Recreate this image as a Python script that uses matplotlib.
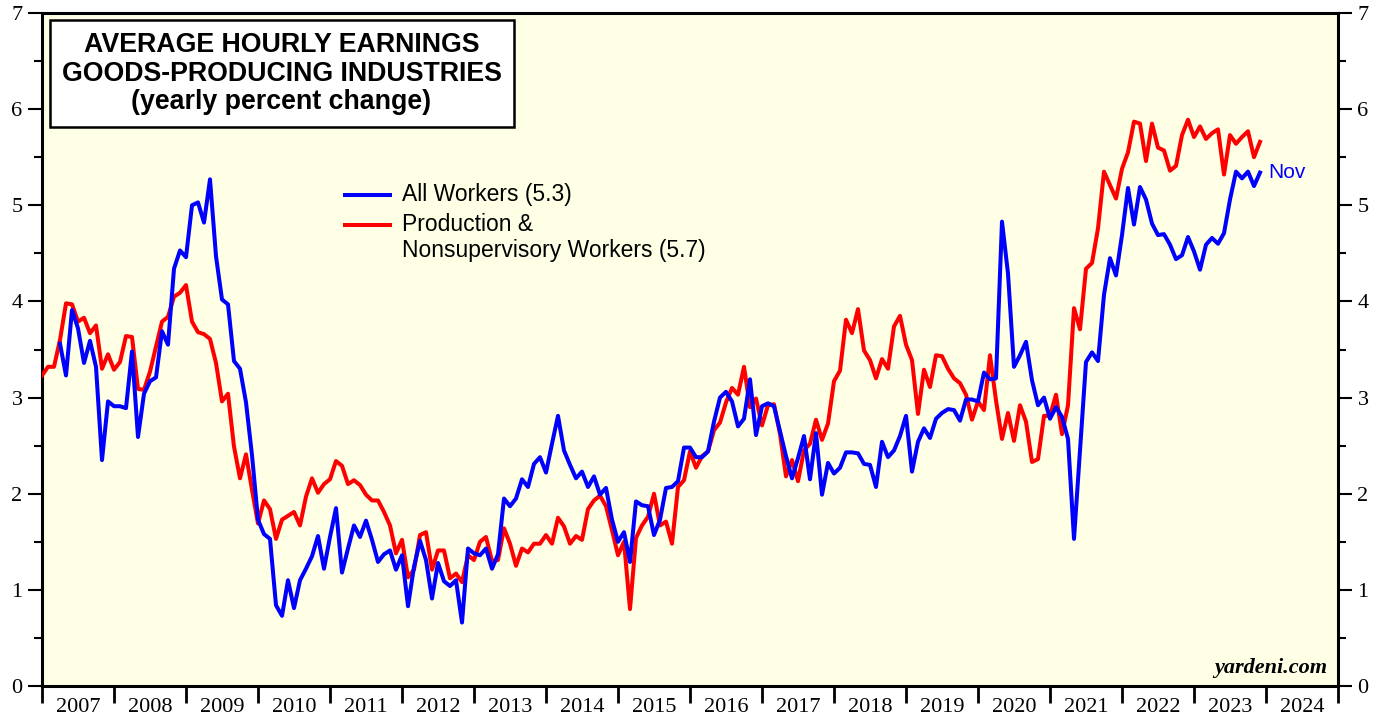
import numpy as np
import matplotlib.pyplot as plt
from matplotlib.ticker import FixedLocator, NullFormatter

# monthly values, first point = Dec 2006 (plotted at start of 2007), last = Nov 2023
production = [
    3.23, 3.32, 3.32, 3.60, 3.98, 3.97, 3.79, 3.83, 3.67, 3.75, 3.30, 3.45,
    3.29, 3.37, 3.64, 3.63, 3.09, 3.08, 3.27, 3.53, 3.79, 3.84, 4.05, 4.09,
    4.17, 3.79, 3.68, 3.66, 3.61, 3.36, 2.96, 3.04, 2.49, 2.16, 2.41, 2.04,
    1.69, 1.93, 1.84, 1.53, 1.73, 1.77, 1.81, 1.67, 1.97, 2.16, 2.01, 2.10,
    2.15, 2.34, 2.29, 2.10, 2.14, 2.09, 1.99, 1.93, 1.93, 1.81, 1.67, 1.38,
    1.52, 1.13, 1.21, 1.57, 1.60, 1.21, 1.41, 1.41, 1.12, 1.17, 1.08, 1.36,
    1.31, 1.50, 1.55, 1.30, 1.31, 1.64, 1.48, 1.25, 1.43, 1.39, 1.48, 1.48,
    1.57, 1.48, 1.75, 1.66, 1.48, 1.56, 1.52, 1.84, 1.93, 1.98, 1.87, 1.62,
    1.36, 1.50, 0.80, 1.54, 1.67, 1.76, 2.00, 1.67, 1.71, 1.48, 2.07, 2.14,
    2.44, 2.27, 2.39, 2.44, 2.66, 2.74, 2.95, 3.10, 3.03, 3.32, 2.90, 2.99,
    2.71, 2.92, 2.93, 2.62, 2.18, 2.35, 2.13, 2.45, 2.52, 2.77, 2.56, 2.73,
    3.17, 3.28, 3.81, 3.67, 3.92, 3.49, 3.39, 3.20, 3.40, 3.30, 3.74, 3.85,
    3.55, 3.39, 2.83, 3.29, 3.11, 3.44, 3.43, 3.30, 3.20, 3.15, 3.03, 2.77,
    2.96, 2.87, 3.44, 2.97, 2.57, 2.84, 2.55, 2.92, 2.75, 2.33, 2.36, 2.81,
    2.81, 3.03, 2.62, 2.92, 3.93, 3.71, 4.34, 4.40, 4.76, 5.35, 5.21, 5.07,
    5.38, 5.55, 5.87, 5.85, 5.46, 5.85, 5.60, 5.57, 5.36, 5.41, 5.73, 5.89,
    5.71, 5.82, 5.69, 5.75, 5.79, 5.32, 5.73, 5.64, 5.71, 5.77, 5.50, 5.66,
]

# all workers starts three months later (Mar 2007)
all_workers = [
    3.56, 3.23, 3.91, 3.72, 3.36, 3.59, 3.32, 2.35, 2.96,
    2.91, 2.91, 2.89, 3.48, 2.59, 3.04, 3.17, 3.21, 3.69, 3.55, 4.34, 4.53,
    4.46, 5.00, 5.03, 4.82, 5.27, 4.47, 4.02, 3.97, 3.38, 3.30, 2.95, 2.40,
    1.73, 1.58, 1.53, 0.84, 0.73, 1.10, 0.81, 1.10, 1.22, 1.35, 1.56, 1.22,
    1.55, 1.85, 1.18, 1.43, 1.67, 1.55, 1.72, 1.52, 1.29, 1.37, 1.41, 1.21,
    1.36, 0.83, 1.24, 1.51, 1.31, 0.91, 1.28, 1.09, 1.04, 1.10, 0.66, 1.43,
    1.38, 1.36, 1.43, 1.22, 1.37, 1.95, 1.87, 1.95, 2.15, 2.07, 2.31, 2.38,
    2.22, 2.52, 2.81, 2.45, 2.30, 2.16, 2.23, 2.07, 2.18, 1.99, 2.06, 1.73,
    1.50, 1.60, 1.29, 1.92, 1.88, 1.87, 1.57, 1.73, 2.06, 2.07, 2.13, 2.48,
    2.48, 2.38, 2.38, 2.44, 2.75, 3.00, 3.06, 2.96, 2.70, 2.78, 3.19, 2.61,
    2.91, 2.94, 2.91, 2.65, 2.39, 2.16, 2.37, 2.60, 2.15, 2.63, 1.99, 2.32,
    2.21, 2.27, 2.43, 2.43, 2.42, 2.31, 2.30, 2.07, 2.54, 2.38, 2.45, 2.60,
    2.81, 2.23, 2.54, 2.68, 2.58, 2.78, 2.84, 2.88, 2.87, 2.76, 2.98, 2.98,
    2.96, 3.26, 3.19, 3.20, 4.83, 4.29, 3.32, 3.44, 3.58, 3.18, 2.92, 3.00,
    2.78, 2.90, 2.80, 2.57, 1.53, 2.45, 3.37, 3.47, 3.38, 4.07, 4.45, 4.27,
    4.69, 5.18, 4.80, 5.19, 5.06, 4.81, 4.69, 4.70, 4.59, 4.44, 4.48, 4.67,
    4.52, 4.33, 4.59, 4.66, 4.60, 4.71, 5.06, 5.35, 5.28, 5.35, 5.20, 5.34,
]

years = list(range(2007, 2025))
year_labels = [str(y) for y in years]

t_prod = 2007 + np.arange(len(production)) / 12
t_all = 2007 + (np.arange(len(all_workers)) + 3) / 12

BLUE = '#0000FF'
RED = '#FF0000'

fig = plt.figure(figsize=(13.84, 7.19), dpi=100)
ax = fig.add_axes([42 / 1384, 33 / 719, 1296 / 1384, 673 / 719])
ax.set_facecolor('#FFFFE6')

ax.plot(t_prod, production, color=RED, lw=2.9, zorder=3)
ax.plot(t_all, all_workers, color=BLUE, lw=2.9, zorder=4)

ax.set_xlim(2007, 2025)
ax.set_ylim(0, 7)

for s in ax.spines.values():
    s.set_linewidth(2.2)

ax.set_yticks(range(0, 8))
ax.yaxis.set_minor_locator(FixedLocator(np.arange(0.5, 7, 1)))
ax.tick_params(axis='y', which='major', direction='out', length=10, width=1.5,
               left=True, right=True, labelleft=True, labelright=True,
               labelsize=16, pad=4)
ax.tick_params(axis='y', which='minor', direction='out', length=6, width=1.5,
               left=True, right=True)

ax.xaxis.set_major_locator(FixedLocator(range(2007, 2026)))
ax.xaxis.set_major_formatter(NullFormatter())
ax.xaxis.set_minor_locator(FixedLocator([y + 0.5 for y in years]))
ax.set_xticklabels(year_labels, minor=True)
ax.tick_params(axis='x', which='major', direction='out', length=12, width=2)
ax.tick_params(axis='x', which='minor', length=0, labelsize=16, pad=9)

for lab in ax.get_xticklabels(minor=True) + ax.get_yticklabels():
    lab.set_fontfamily('Liberation Serif')

# title box
ax.text(0.1848, 0.910, 'AVERAGE HOURLY EARNINGS\nGOODS-PRODUCING INDUSTRIES\n(yearly percent change)',
        transform=ax.transAxes, ha='center', va='center', fontsize=19.3,
        fontweight='bold', family='Liberation Sans', linespacing=1.13, zorder=5,
        bbox=dict(boxstyle='square,pad=0.45', facecolor='white', edgecolor='black', lw=1.8))

# legend, drawn by hand so the red key sits on the first label line
ax.plot([0.2338, 0.2685], [0.7296, 0.7296], transform=ax.transAxes, color=BLUE, lw=2.9)
ax.plot([0.2338, 0.2685], [0.6850, 0.6850], transform=ax.transAxes, color=RED, lw=2.9)
ax.text(0.2778, 0.7296, 'All Workers (5.3)', transform=ax.transAxes, va='center',
        fontsize=16.5, family='Liberation Sans')
ax.text(0.2778, 0.6850, 'Production &', transform=ax.transAxes, va='center',
        fontsize=16.5, family='Liberation Sans')
ax.text(0.2778, 0.6478, 'Nonsupervisory Workers (5.7)', transform=ax.transAxes,
        va='center', fontsize=16.5, family='Liberation Sans')

ax.text(t_all[-1] + 0.12, all_workers[-1], 'Nov', color=BLUE,
        fontsize=15, family='Liberation Sans', va='center', ha='left')

ax.text(0.992, 0.012, 'yardeni.com', transform=ax.transAxes, ha='right',
        va='bottom', fontsize=16, fontweight='bold', style='italic',
        family='Liberation Serif')

fig.savefig('out.png', dpi=100)
